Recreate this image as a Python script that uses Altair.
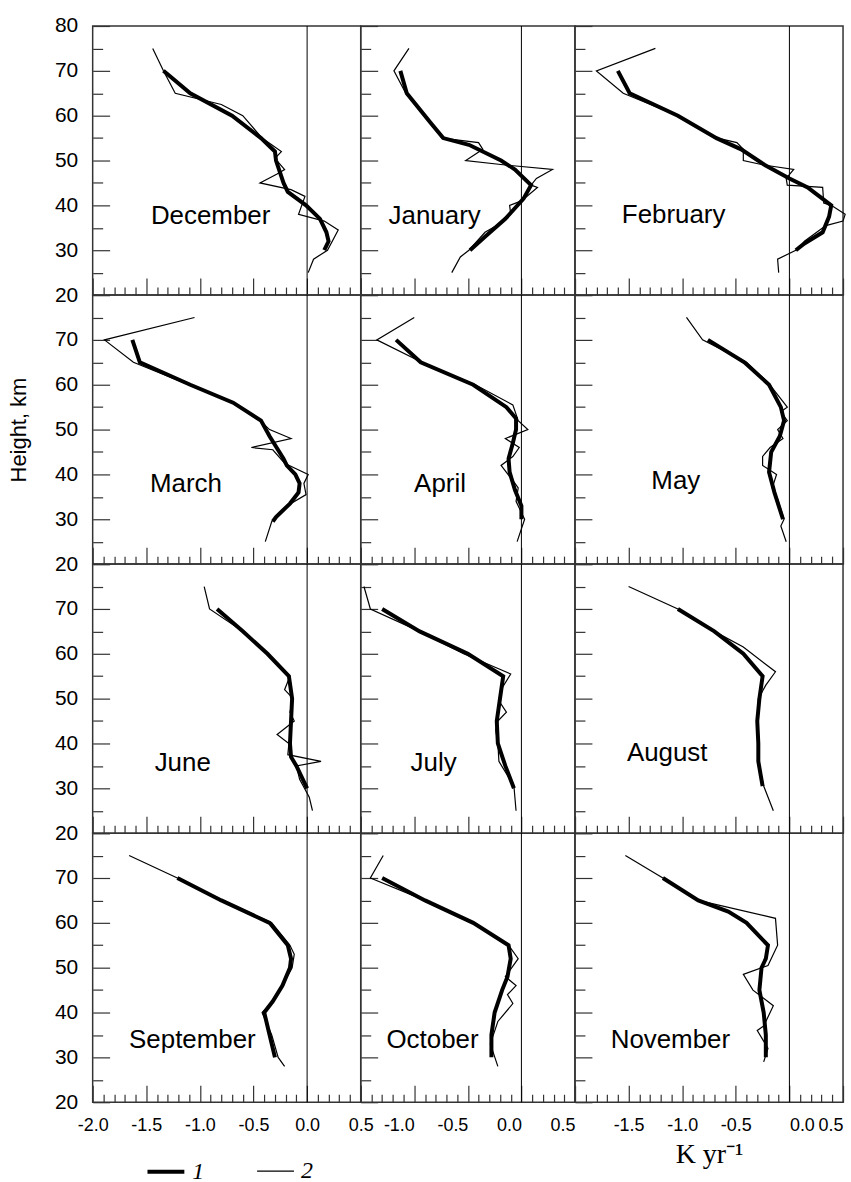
import altair as alt
import pandas as pd

# ---------------- data (height km, trend K/yr) ----------------
# series 1 = thick line, series 2 = thin line
dec_h1 = [70, 65, 60, 55, 52, 50, 45, 43, 40, 37, 34, 32, 30]
dec_v1 = [-1.34, -1.09, -0.70, -0.43, -0.30, -0.29, -0.22, -0.18, -0.01, 0.12, 0.18, 0.20, 0.16]
dec_h2 = [75, 70, 65, 62.5, 60, 55, 52, 50.5, 48, 47, 45, 43.5, 42, 38, 36.5, 34.5, 30, 28, 25]
dec_v2 = [-1.44, -1.34, -1.23, -0.80, -0.60, -0.42, -0.24, -0.30, -0.21, -0.28, -0.44, -0.15, -0.02, -0.08, 0.16, 0.29, 0.19, 0.06, 0.01]

jan_h1 = [70, 65, 58.5, 55, 53.5, 50, 48, 44.5, 41.5, 37, 33, 30]
jan_v1 = [-1.13, -1.07, -0.85, -0.73, -0.49, -0.19, -0.06, 0.09, 0.02, -0.15, -0.34, -0.48]
jan_h2 = [75, 70, 65, 55, 54, 52.5, 50, 49, 48, 46, 44.5, 44, 41, 40, 38, 35.5, 34, 30, 28.5, 25]
jan_v2 = [-1.05, -1.19, -1.08, -0.74, -0.40, -0.36, -0.52, -0.15, 0.29, 0.14, 0.09, 0.15, 0.0, -0.11, -0.10, -0.23, -0.34, -0.49, -0.57, -0.65]

feb_h1 = [70, 65, 60, 55, 52.5, 49, 46, 44, 42, 40, 37.5, 34, 31.5, 30]
feb_v1 = [-1.60, -1.49, -1.04, -0.68, -0.45, -0.23, 0.0, 0.17, 0.28, 0.39, 0.37, 0.31, 0.14, 0.06]
feb_h2 = [75, 70, 65, 60, 55, 54, 52.5, 50, 49, 48, 46, 44.5, 44, 40.5, 40, 38, 36.5, 35.5, 32, 31, 30, 28, 25]
feb_v2 = [-1.25, -1.80, -1.55, -1.04, -0.67, -0.49, -0.43, -0.43, -0.24, 0.04, -0.03, -0.02, 0.31, 0.32, 0.39, 0.52, 0.50, 0.34, 0.14, 0.11, 0.06, -0.11, -0.10]

mar_h1 = [70, 65, 60, 56, 52, 48.5, 43.5, 42, 40, 38, 36, 33.5, 30.5, 29.5]
mar_v1 = [-1.63, -1.56, -1.09, -0.69, -0.43, -0.35, -0.22, -0.19, -0.11, -0.07, -0.08, -0.16, -0.29, -0.32]
mar_h2 = [75, 70, 65, 56, 52.5, 50, 48, 46, 45.5, 42.5, 40, 38, 35.5, 33.5, 29.5, 25]
mar_v2 = [-1.05, -1.89, -1.62, -0.69, -0.46, -0.35, -0.15, -0.52, -0.32, -0.21, 0.01, -0.03, -0.01, -0.15, -0.33, -0.39]

apr_h1 = [70, 65, 60, 55, 52.5, 50, 47, 43.5, 40.5, 36.5, 33, 30]
apr_v1 = [-1.17, -0.94, -0.45, -0.14, -0.05, -0.05, -0.08, -0.12, -0.11, -0.06, 0.0, 0.0]
apr_h2 = [75, 70, 65, 60, 55.5, 52, 50, 48, 46, 44, 42, 38, 37, 34, 30, 25]
apr_v2 = [-1.00, -1.35, -0.93, -0.43, -0.08, -0.03, 0.06, -0.15, -0.02, -0.08, -0.19, -0.06, -0.03, -0.05, 0.03, -0.04]

may_h1 = [70, 65, 60, 55, 52, 48.5, 45, 40.5, 36, 30]
may_v1 = [-0.76, -0.42, -0.19, -0.08, -0.05, -0.09, -0.17, -0.19, -0.14, -0.06]
may_h2 = [75, 70, 65, 60.5, 55, 54, 52, 50, 48, 46, 44, 42, 40, 37, 34.5, 30, 28.5, 25]
may_v2 = [-0.96, -0.81, -0.40, -0.20, -0.02, -0.08, -0.02, -0.11, -0.06, -0.18, -0.25, -0.25, -0.12, -0.16, -0.11, -0.05, -0.08, -0.03]

jun_h1 = [70, 65, 60, 55, 50, 45, 40, 37, 35, 30]
jun_v1 = [-0.84, -0.60, -0.37, -0.17, -0.14, -0.15, -0.16, -0.15, -0.10, 0.0]
jun_h2 = [75, 70, 65, 60, 55, 52, 50, 47, 45, 42, 40, 37.5, 36, 35, 32, 28, 25]
jun_v2 = [-0.96, -0.91, -0.60, -0.37, -0.16, -0.21, -0.13, -0.16, -0.12, -0.28, -0.17, -0.18, 0.13, -0.10, -0.07, 0.02, 0.05]

jul_h1 = [70, 65, 60, 55, 50, 45, 40, 35, 30]
jul_v1 = [-1.30, -0.95, -0.50, -0.17, -0.20, -0.23, -0.22, -0.15, -0.07]
jul_h2 = [75, 70, 65, 60, 55.5, 52, 49.5, 47, 45, 43, 40, 36, 30.5, 25]
jul_v2 = [-1.47, -1.41, -0.95, -0.54, -0.10, -0.19, -0.21, -0.14, -0.22, -0.24, -0.22, -0.21, -0.07, -0.05]

aug_h1 = [70, 65, 60, 55, 50, 45, 40, 36, 30.5]
aug_v1 = [-1.04, -0.70, -0.43, -0.25, -0.28, -0.30, -0.29, -0.29, -0.25]
aug_h2 = [75, 70, 65, 61.5, 56, 53, 50, 45, 40, 36, 30.5, 25]
aug_v2 = [-1.50, -1.04, -0.70, -0.43, -0.13, -0.22, -0.29, -0.30, -0.28, -0.29, -0.24, -0.15]

sep_h1 = [70, 65, 60, 55, 52, 50, 46, 42.5, 40, 35, 30]
sep_v1 = [-1.21, -0.80, -0.35, -0.18, -0.15, -0.16, -0.23, -0.32, -0.40, -0.35, -0.30]
sep_h2 = [75, 70, 65, 60, 55, 53, 50, 46, 42.5, 40, 35, 30, 28]
sep_v2 = [-1.66, -1.21, -0.78, -0.33, -0.16, -0.12, -0.14, -0.23, -0.32, -0.42, -0.33, -0.27, -0.21]

oct_h1 = [70, 65, 60, 55, 52, 48, 45, 40, 35, 30]
oct_v1 = [-1.30, -0.90, -0.45, -0.12, -0.10, -0.13, -0.18, -0.25, -0.28, -0.28]
oct_h2 = [75, 70, 65, 60, 55, 52, 48, 46, 44, 42, 38, 33, 28]
oct_v2 = [-1.29, -1.41, -0.90, -0.45, -0.12, -0.03, -0.15, -0.05, -0.13, -0.08, -0.22, -0.29, -0.22]

nov_h1 = [70, 65, 62.5, 60, 55, 52, 50, 45, 40, 35, 30]
nov_v1 = [-1.18, -0.85, -0.57, -0.40, -0.20, -0.22, -0.26, -0.28, -0.24, -0.22, -0.22]
nov_h2 = [75, 70, 65, 61, 55, 50.5, 48.5, 45, 41.5, 37, 36, 32, 29]
nov_v2 = [-1.53, -1.18, -0.85, -0.13, -0.11, -0.20, -0.43, -0.34, -0.15, -0.24, -0.30, -0.20, -0.24]

months = ["December", "January", "February", "March", "April", "May",
          "June", "July", "August", "September", "October", "November"]
series1_h = [dec_h1, jan_h1, feb_h1, mar_h1, apr_h1, may_h1, jun_h1, jul_h1, aug_h1, sep_h1, oct_h1, nov_h1]
series1_v = [dec_v1, jan_v1, feb_v1, mar_v1, apr_v1, may_v1, jun_v1, jul_v1, aug_v1, sep_v1, oct_v1, nov_v1]
series2_h = [dec_h2, jan_h2, feb_h2, mar_h2, apr_h2, may_h2, jun_h2, jul_h2, aug_h2, sep_h2, oct_h2, nov_h2]
series2_v = [dec_v2, jan_v2, feb_v2, mar_v2, apr_v2, may_v2, jun_v2, jul_v2, aug_v2, sep_v2, oct_v2, nov_v2]

# month label anchors (data units of each panel)
label_v = [-0.90, -0.81, -1.08, -1.13, -0.76, -1.06, -1.16, -0.82, -1.14, -1.07, -0.83, -1.11]
label_h = [37.7, 37.7, 37.9, 37.9, 37.9, 38.6, 35.7, 35.7, 37.9, 33.9, 33.9, 33.9]

legend_names = ["1", "2"]

# ---------------- layout / style ----------------
COL_MIN = [-2.0, -1.5, -2.0]
COL_W = [269, 215, 269]
PANEL_H = 270
FONT = "Liberation Sans"
SERIF = "Liberation Serif"
FRAME = "#333333"


def neg_label(expr_hide):
    base = "(datum.value < 0 ? '-' : '') + format(abs(datum.value), '.1f')"
    if expr_hide:
        return f"{expr_hide} ? '' : {base}"
    return base


def make_panel(k):
    row, col = divmod(k, 3)
    xmin = COL_MIN[col]
    xs = alt.Scale(domain=[xmin, 0.5], nice=False, zero=False)
    ys = alt.Scale(domain=[20, 80], nice=False, zero=False)
    major_x = [t / 2 for t in range(int(round(xmin * 2)), 2)]
    minor_x = [round(t / 10, 1) for t in range(int(round(xmin * 10)), 6) if t % 5 != 0]
    major_y = [20, 30, 40, 50, 60, 70, 80]
    minor_y = [25, 35, 45, 55, 65, 75]
    bottom = row == 3
    left = col == 0

    if col == 0:
        hide = None
        x_align = "center"
    elif col == 1:
        hide = "datum.value < -1.25"
        x_align = "right"
    else:
        hide = "datum.value < -1.75"
        x_align = {"condition": [{"test": "datum.value == 0", "value": "left"},
                                 {"test": "datum.value == 0.5", "value": "right"}],
                   "value": "center"}

    x_axis_kw = dict(orient="bottom", values=major_x, offset=-17, tickSize=17,
                     tickColor=FRAME, tickWidth=1.2, domain=False, grid=False,
                     labels=bottom, labelExpr=neg_label(hide), labelFont=FONT,
                     labelFontSize=18, labelColor="black", labelPadding=14,
                     labelOverlap=False, labelFlush=False, labelAlign=x_align,
                     labelBaseline="top")
    if k == 11:
        x_axis_kw.update(title="K  yr\u207b\u00b9", titleFont=SERIF, titleFontSize=28,
                         titleFontWeight="normal", titleColor="black", titlePadding=7)
    else:
        x_axis_kw.update(title=None)

    y_axis_kw = dict(orient="left", values=major_y, offset=-17, tickSize=17,
                     tickColor=FRAME, tickWidth=1.2, domain=False, grid=False,
                     labels=left, labelExpr=("datum.label" if row == 0 else "datum.value >= 80 ? '' : datum.label"),
                     labelFont=FONT, labelFontSize=21, labelColor="black", labelPadding=15,
                     labelOverlap=False, labelFlush=False)
    if k == 3:
        y_axis_kw.update(title="Height, km", titleFont=FONT, titleFontSize=22,
                         titleFontWeight="normal", titleColor="black", titlePadding=24)
    else:
        y_axis_kw.update(title=None)

    sw_scale = alt.Scale(domain=legend_names, range=[4, 1.2])
    if k == 9:
        leg = alt.Legend(orient="none", legendX=53, legendY=319, direction="horizontal",
                         title=None, symbolType="stroke", symbolSize=1369, padding=0,
                         symbolStrokeColor="black", labelFont=SERIF, labelFontStyle="italic",
                         labelFontSize=24, labelColor="black", labelOffset=6,
                         columnPadding=50)
    else:
        leg = None

    d1 = pd.DataFrame({"h": series1_h[k], "v": series1_v[k], "s": legend_names[0],
                       "i": list(range(len(series1_h[k])))})
    d2 = pd.DataFrame({"h": series2_h[k], "v": series2_v[k], "s": legend_names[1],
                       "i": list(range(len(series2_h[k])))})

    thick = alt.Chart(d1).mark_line(color="black").encode(
        x=alt.X("v:Q", scale=xs, axis=alt.Axis(**x_axis_kw)),
        y=alt.Y("h:Q", scale=ys, axis=alt.Axis(**y_axis_kw)),
        order=alt.Order("i:Q"),
        strokeWidth=alt.StrokeWidth("s:N", scale=sw_scale, legend=leg),
    )
    thin = alt.Chart(d2).mark_line(color="black").encode(
        x=alt.X("v:Q", scale=xs, axis=alt.Axis(orient="bottom", values=minor_x, offset=-8,
                                                tickSize=8, tickColor=FRAME, tickWidth=1.2,
                                                domain=False, grid=False, labels=False, title=None)),
        y=alt.Y("h:Q", scale=ys, axis=alt.Axis(orient="left", values=minor_y, offset=-10,
                                                tickSize=10, tickColor=FRAME, tickWidth=1.2,
                                                domain=False, grid=False, labels=False, title=None)),
        order=alt.Order("i:Q"),
        strokeWidth=alt.StrokeWidth("s:N", scale=sw_scale, legend=leg),
    )
    zero = alt.Chart(pd.DataFrame({"v": [0.0]})).mark_rule(color="black", strokeWidth=1).encode(
        x=alt.X("v:Q", scale=xs, axis=None)
    )
    text = alt.Chart(pd.DataFrame({"v": [label_v[k]], "h": [label_h[k]], "t": [months[k]]})).mark_text(
        font=FONT, fontSize=26, align="center", baseline="middle", color="black"
    ).encode(
        x=alt.X("v:Q", scale=xs, axis=None),
        y=alt.Y("h:Q", scale=ys, axis=None),
        text="t:N",
    )
    return alt.layer(zero, thin, thick, text).resolve_axis(
        x="independent", y="independent"
    ).properties(width=COL_W[col], height=PANEL_H)


panels = [make_panel(k) for k in range(12)]

chart = alt.concat(*panels, columns=3, spacing=0, bounds="flush", align="each").resolve_scale(
    strokeWidth="independent"
).resolve_legend(
    strokeWidth="independent"
).properties(
    padding={"left": 6, "top": 12, "right": 2, "bottom": 0},
    background="white",
).configure_view(stroke=FRAME, strokeWidth=1.5)

chart.save("out.html", embed_options={"renderer": "svg", "actions": False})
